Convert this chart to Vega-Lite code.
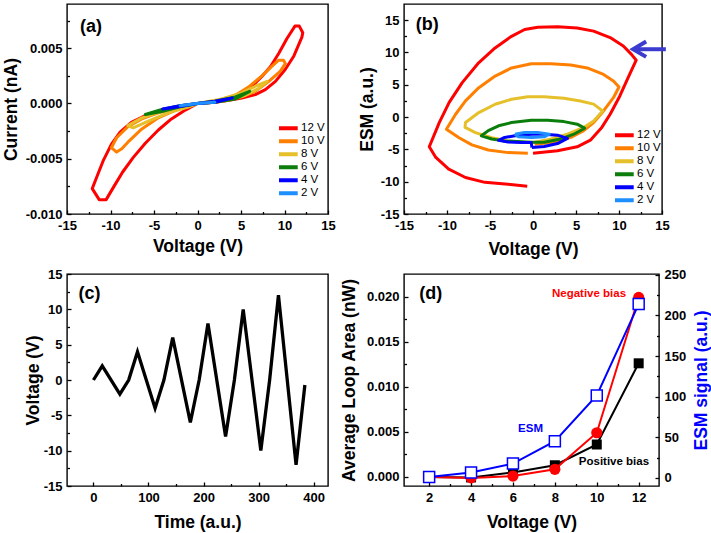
{
  "$schema": "https://vega.github.io/schema/vega-lite/v6.json",
  "padding": {"left": 1, "top": 3, "right": 2, "bottom": 2},
  "background": "white",
  "datasets": {
    "iv": [
      {"s":"12 V","k":0,"v":0,"i":0},{"s":"12 V","k":1,"v":2,"i":0.00012},{"s":"12 V","k":2,"v":3.6,"i":0.0003},{"s":"12 V","k":3,"v":5.1,"i":0.0005},{"s":"12 V","k":4,"v":6.65,"i":0.0008},{"s":"12 V","k":5,"v":7.8,"i":0.00125},{"s":"12 V","k":6,"v":8.96,"i":0.002},{"s":"12 V","k":7,"v":10.1,"i":0.0031},{"s":"12 V","k":8,"v":11.08,"i":0.0043},{"s":"12 V","k":9,"v":12,"i":0.006},{"s":"12 V","k":10,"v":12.1,"i":0.0064},{"s":"12 V","k":11,"v":11.7,"i":0.007},{"s":"12 V","k":12,"v":11.2,"i":0.007},{"s":"12 V","k":13,"v":10.3,"i":0.0059},{"s":"12 V","k":14,"v":9.35,"i":0.00455},{"s":"12 V","k":15,"v":8.4,"i":0.00335},{"s":"12 V","k":16,"v":7.4,"i":0.00245},{"s":"12 V","k":17,"v":6.3,"i":0.00158},{"s":"12 V","k":18,"v":5.1,"i":0.00098},{"s":"12 V","k":19,"v":3.6,"i":0.0005},{"s":"12 V","k":20,"v":2,"i":0.0002},{"s":"12 V","k":21,"v":0,"i":0},{"s":"12 V","k":22,"v":-1.8,"i":-0.0003},{"s":"12 V","k":23,"v":-4.1,"i":-0.0007},{"s":"12 V","k":24,"v":-6,"i":-0.0011},{"s":"12 V","k":25,"v":-7.6,"i":-0.0017},{"s":"12 V","k":26,"v":-8.9,"i":-0.0026},{"s":"12 V","k":27,"v":-9.9,"i":-0.0037},{"s":"12 V","k":28,"v":-10.85,"i":-0.0052},{"s":"12 V","k":29,"v":-11.6,"i":-0.0067},{"s":"12 V","k":30,"v":-12.1,"i":-0.0077},{"s":"12 V","k":31,"v":-11.3,"i":-0.0087},{"s":"12 V","k":32,"v":-10.5,"i":-0.0087},{"s":"12 V","k":33,"v":-9.6,"i":-0.0075},{"s":"12 V","k":34,"v":-8.6,"i":-0.0062},{"s":"12 V","k":35,"v":-7.4,"i":-0.0049},{"s":"12 V","k":36,"v":-6,"i":-0.0036},{"s":"12 V","k":37,"v":-4.5,"i":-0.0024},{"s":"12 V","k":38,"v":-3,"i":-0.0014},{"s":"12 V","k":39,"v":-1.4,"i":-0.0006},{"s":"12 V","k":40,"v":0,"i":0},
      {"s":"10 V","k":0,"v":0,"i":0},{"s":"10 V","k":1,"v":2,"i":0.00012},{"s":"10 V","k":2,"v":3.6,"i":0.0003},{"s":"10 V","k":3,"v":5.1,"i":0.0006},{"s":"10 V","k":4,"v":6.65,"i":0.0011},{"s":"10 V","k":5,"v":8.2,"i":0.002},{"s":"10 V","k":6,"v":9.5,"i":0.0029},{"s":"10 V","k":7,"v":10.1,"i":0.0036},{"s":"10 V","k":8,"v":9.9,"i":0.0039},{"s":"10 V","k":9,"v":9.3,"i":0.0039},{"s":"10 V","k":10,"v":8.6,"i":0.0034},{"s":"10 V","k":11,"v":7.4,"i":0.0025},{"s":"10 V","k":12,"v":5.9,"i":0.0015},{"s":"10 V","k":13,"v":4.35,"i":0.00075},{"s":"10 V","k":14,"v":2.4,"i":0.0003},{"s":"10 V","k":15,"v":0,"i":0},{"s":"10 V","k":16,"v":-2.2,"i":-0.0004},{"s":"10 V","k":17,"v":-4.5,"i":-0.00084},{"s":"10 V","k":18,"v":-6.4,"i":-0.0014},{"s":"10 V","k":19,"v":-8,"i":-0.0021},{"s":"10 V","k":20,"v":-9.3,"i":-0.0031},{"s":"10 V","k":21,"v":-9.9,"i":-0.004},{"s":"10 V","k":22,"v":-9.3,"i":-0.0044},{"s":"10 V","k":23,"v":-8.7,"i":-0.0041},{"s":"10 V","k":24,"v":-8,"i":-0.0035},{"s":"10 V","k":25,"v":-6.4,"i":-0.0023},{"s":"10 V","k":26,"v":-4.5,"i":-0.0013},{"s":"10 V","k":27,"v":-2.2,"i":-0.0005},{"s":"10 V","k":28,"v":0,"i":0},
      {"s":"8 V","k":0,"v":0,"i":0},{"s":"8 V","k":1,"v":3.2,"i":0.00027},{"s":"8 V","k":2,"v":5.5,"i":0.00075},{"s":"8 V","k":3,"v":7,"i":0.00135},{"s":"8 V","k":4,"v":8,"i":0.002},{"s":"8 V","k":5,"v":6.65,"i":0.00156},{"s":"8 V","k":6,"v":5.1,"i":0.00096},{"s":"8 V","k":7,"v":2.8,"i":0.0004},{"s":"8 V","k":8,"v":0,"i":0},{"s":"8 V","k":9,"v":-1.8,"i":-0.00024},{"s":"8 V","k":10,"v":-4.1,"i":-0.0007},{"s":"8 V","k":11,"v":-6.4,"i":-0.0013},{"s":"8 V","k":12,"v":-8,"i":-0.002},{"s":"8 V","k":13,"v":-7.4,"i":-0.0022},{"s":"8 V","k":14,"v":-5.65,"i":-0.0016},{"s":"8 V","k":15,"v":-3.35,"i":-0.00084},{"s":"8 V","k":16,"v":-1,"i":-0.0003},{"s":"8 V","k":17,"v":0,"i":0},
      {"s":"6 V","k":0,"v":0,"i":0},{"s":"6 V","k":1,"v":2,"i":0.0001},{"s":"6 V","k":2,"v":4.35,"i":0.0004},{"s":"6 V","k":3,"v":6,"i":0.0011},{"s":"6 V","k":4,"v":4.35,"i":0.0006},{"s":"6 V","k":5,"v":2,"i":0.0002},{"s":"6 V","k":6,"v":0,"i":0},{"s":"6 V","k":7,"v":-2,"i":-0.0002},{"s":"6 V","k":8,"v":-4.1,"i":-0.00055},{"s":"6 V","k":9,"v":-6,"i":-0.001},{"s":"6 V","k":10,"v":-4.1,"i":-0.00072},{"s":"6 V","k":11,"v":-2,"i":-0.0003},{"s":"6 V","k":12,"v":0,"i":0},
      {"s":"4 V","k":0,"v":0,"i":0},{"s":"4 V","k":1,"v":2,"i":0.0001},{"s":"4 V","k":2,"v":4,"i":0.0005},{"s":"4 V","k":3,"v":2,"i":0.0002},{"s":"4 V","k":4,"v":0,"i":0},{"s":"4 V","k":5,"v":-2,"i":-0.0002},{"s":"4 V","k":6,"v":-4,"i":-0.0005},{"s":"4 V","k":7,"v":-2,"i":-0.00028},{"s":"4 V","k":8,"v":0,"i":0},
      {"s":"2 V","k":0,"v":0,"i":0},{"s":"2 V","k":1,"v":2,"i":0.0001},{"s":"2 V","k":2,"v":0,"i":0.00002},{"s":"2 V","k":3,"v":-2,"i":-0.0002},{"s":"2 V","k":4,"v":0,"i":0}
    ],
    "esm": [
      {"s":"12 V","k":0,"v":0,"e":-5.6},{"s":"12 V","k":1,"v":2.85,"e":-5.22},{"s":"12 V","k":2,"v":5.14,"e":-4.6},{"s":"12 V","k":3,"v":6.67,"e":-3.58},{"s":"12 V","k":4,"v":8,"e":-1.6},{"s":"12 V","k":5,"v":8.97,"e":0.44},{"s":"12 V","k":6,"v":10.1,"e":3.27},{"s":"12 V","k":7,"v":11.06,"e":6.1},{"s":"12 V","k":8,"v":12,"e":8.8},{"s":"12 V","k":9,"v":11.45,"e":9.7},{"s":"12 V","k":10,"v":10.5,"e":11},{"s":"12 V","k":11,"v":8.97,"e":12.3},{"s":"12 V","k":12,"v":7.05,"e":13.3},{"s":"12 V","k":13,"v":5.14,"e":13.8},{"s":"12 V","k":14,"v":2.85,"e":13.97},{"s":"12 V","k":15,"v":0.55,"e":13.9},{"s":"12 V","k":16,"v":-0.97,"e":13.56},{"s":"12 V","k":17,"v":-2.5,"e":12.5},{"s":"12 V","k":18,"v":-4.41,"e":10.7},{"s":"12 V","k":19,"v":-6.32,"e":8.4},{"s":"12 V","k":20,"v":-8.23,"e":5.33},{"s":"12 V","k":21,"v":-9.76,"e":2.24},{"s":"12 V","k":22,"v":-10.9,"e":-0.85},{"s":"12 V","k":23,"v":-12.06,"e":-4.6},{"s":"12 V","k":24,"v":-11.3,"e":-6.25},{"s":"12 V","k":25,"v":-9.8,"e":-8.05},{"s":"12 V","k":26,"v":-7.85,"e":-9.35},{"s":"12 V","k":27,"v":-5.6,"e":-10.1},{"s":"12 V","k":28,"v":-2.9,"e":-10.4},{"s":"12 V","k":29,"v":-0.67,"e":-10.7},
      {"s":"10 V","k":0,"v":0.2,"e":-4.2},{"s":"10 V","k":1,"v":2.5,"e":-3.9},{"s":"10 V","k":2,"v":4.4,"e":-3.15},{"s":"10 V","k":3,"v":5.9,"e":-2.1},{"s":"10 V","k":4,"v":7.05,"e":-0.85},{"s":"10 V","k":5,"v":8.2,"e":0.95},{"s":"10 V","k":6,"v":9.35,"e":3},{"s":"10 V","k":7,"v":10,"e":4.65},{"s":"10 V","k":8,"v":9.35,"e":5.6},{"s":"10 V","k":9,"v":8.2,"e":6.6},{"s":"10 V","k":10,"v":6.3,"e":7.6},{"s":"10 V","k":11,"v":4.4,"e":8.05},{"s":"10 V","k":12,"v":2.1,"e":8.25},{"s":"10 V","k":13,"v":-0.2,"e":8.25},{"s":"10 V","k":14,"v":-2.5,"e":7.6},{"s":"10 V","k":15,"v":-4.4,"e":6.35},{"s":"10 V","k":16,"v":-6.3,"e":4.55},{"s":"10 V","k":17,"v":-7.85,"e":2.5},{"s":"10 V","k":18,"v":-9,"e":0.44},{"s":"10 V","k":19,"v":-10.07,"e":-1.88},{"s":"10 V","k":20,"v":-8.6,"e":-3.2},{"s":"10 V","k":21,"v":-7.1,"e":-4.3},{"s":"10 V","k":22,"v":-5.2,"e":-5.1},{"s":"10 V","k":23,"v":-2.9,"e":-5.5},{"s":"10 V","k":24,"v":-0.6,"e":-5.6},
      {"s":"8 V","k":0,"v":0,"e":-3.95},{"s":"8 V","k":1,"v":2.1,"e":-3.4},{"s":"8 V","k":2,"v":4,"e":-2.65},{"s":"8 V","k":3,"v":5.9,"e":-1.6},{"s":"8 V","k":4,"v":7.05,"e":-0.6},{"s":"8 V","k":5,"v":8.1,"e":0.95},{"s":"8 V","k":6,"v":7.05,"e":2},{"s":"8 V","k":7,"v":5.5,"e":2.5},{"s":"8 V","k":8,"v":3.6,"e":2.9},{"s":"8 V","k":9,"v":1.3,"e":3.15},{"s":"8 V","k":10,"v":-0.6,"e":3.15},{"s":"8 V","k":11,"v":-2.5,"e":2.75},{"s":"8 V","k":12,"v":-4.4,"e":1.98},{"s":"8 V","k":13,"v":-6.3,"e":0.7},{"s":"8 V","k":14,"v":-7.85,"e":-0.85},{"s":"8 V","k":15,"v":-7.9,"e":-1.6},{"s":"8 V","k":16,"v":-6.7,"e":-2.4},{"s":"8 V","k":17,"v":-4.8,"e":-3.2},{"s":"8 V","k":18,"v":-2.9,"e":-3.7},{"s":"8 V","k":19,"v":-1,"e":-3.95},{"s":"8 V","k":20,"v":-0.2,"e":-3.95},
      {"s":"6 V","k":0,"v":-0.2,"e":-3.9},{"s":"6 V","k":1,"v":1.3,"e":-3.9},{"s":"6 V","k":2,"v":3.2,"e":-3.4},{"s":"6 V","k":3,"v":4.75,"e":-2.65},{"s":"6 V","k":4,"v":6,"e":-1.72},{"s":"6 V","k":5,"v":5.14,"e":-1.1},{"s":"6 V","k":6,"v":3.6,"e":-0.7},{"s":"6 V","k":7,"v":1.7,"e":-0.5},{"s":"6 V","k":8,"v":-0.2,"e":-0.5},{"s":"6 V","k":9,"v":-2.5,"e":-0.85},{"s":"6 V","k":10,"v":-4,"e":-1.35},{"s":"6 V","k":11,"v":-5.2,"e":-2.1},{"s":"6 V","k":12,"v":-6,"e":-2.9},{"s":"6 V","k":13,"v":-4.8,"e":-3.4},{"s":"6 V","k":14,"v":-3.3,"e":-3.7},{"s":"6 V","k":15,"v":-1.36,"e":-3.8},{"s":"6 V","k":16,"v":-0.2,"e":-3.9},
      {"s":"4 V","k":0,"v":-0.13,"e":-4.7},{"s":"4 V","k":1,"v":1.3,"e":-4.55},{"s":"4 V","k":2,"v":2.85,"e":-4.1},{"s":"4 V","k":3,"v":4,"e":-3.3},{"s":"4 V","k":4,"v":2.85,"e":-2.8},{"s":"4 V","k":5,"v":1.3,"e":-2.65},{"s":"4 V","k":6,"v":-0.2,"e":-2.65},{"s":"4 V","k":7,"v":-2.1,"e":-2.9},{"s":"4 V","k":8,"v":-3.3,"e":-3.15},{"s":"4 V","k":9,"v":-4,"e":-3.6},{"s":"4 V","k":10,"v":-2.9,"e":-3.85},{"s":"4 V","k":11,"v":-1.36,"e":-3.95},{"s":"4 V","k":12,"v":-0.2,"e":-3.95},{"s":"4 V","k":13,"v":-0.13,"e":-4.7},
      {"s":"2 V","k":0,"v":-2.1,"e":-2.65},{"s":"2 V","k":1,"v":-1,"e":-2.4},{"s":"2 V","k":2,"v":0.55,"e":-2.4},{"s":"2 V","k":3,"v":1.9,"e":-2.65},{"s":"2 V","k":4,"v":1.3,"e":-3.05},{"s":"2 V","k":5,"v":-0.2,"e":-3.15},{"s":"2 V","k":6,"v":-1.7,"e":-3.05},{"s":"2 V","k":7,"v":-2.1,"e":-2.65}
    ],
    "wave": [
      {"t":0,"v":0},{"t":16,"v":2},{"t":48,"v":-2},{"t":64,"v":0},{"t":80,"v":4},{"t":112,"v":-4},{"t":128,"v":0},{"t":144,"v":6},{"t":176,"v":-6},{"t":192,"v":0},{"t":208,"v":8},{"t":240,"v":-8},{"t":256,"v":0},{"t":272,"v":10},{"t":304,"v":-10},{"t":320,"v":0},{"t":336,"v":12},{"t":368,"v":-12},{"t":384,"v":-0.7}
    ],
    "loop": [
      {"bias":2,"pos":0,"neg":0,"esm":1.2},
      {"bias":4,"pos":-0.00005,"neg":-0.0001,"esm":6.5},
      {"bias":6,"pos":0.0005,"neg":0.0001,"esm":17.6},
      {"bias":8,"pos":0.0013,"neg":0.00085,"esm":45.2},
      {"bias":10,"pos":0.0036,"neg":0.0049,"esm":101.4},
      {"bias":12,"pos":0.0126,"neg":0.0199,"esm":214}
    ]
  },
  "columns": 2,
  "bounds": "flush",
  "align": "all",
  "spacing": {"row": 58, "column": 76},
  "resolve": {"scale": {"x": "independent", "y": "independent", "color": "independent"}, "legend": {"color": "independent"}},
  "concat": [
    {
      "width": 261, "height": 210,
      "resolve": {"axis": {"x": "independent", "y": "independent"}},
      "layer": [
        {
          "data": {"name": "iv"},
          "mark": {"type": "line", "strokeWidth": 3, "strokeJoin": "round"},
          "encoding": {
            "x": {"field": "v", "type": "quantitative", "title": "Voltage (V)", "scale": {"domain": [-15, 15], "nice": false, "zero": false},
                  "axis": {"orient": "bottom", "values": [-15, -10, -5, 0, 5, 10, 15], "labelOverlap": false, "titleY": 32, "labelExpr": "replace(datum.label, '−', '-')"}},
            "y": {"field": "i", "type": "quantitative", "title": "Current (nA)", "scale": {"domain": [-0.010, 0.009], "nice": false, "zero": false},
                  "axis": {"orient": "left", "values": [-0.01, -0.005, 0, 0.005], "labelOverlap": false, "format": ".3f", "titleX": -56, "labelExpr": "replace(datum.label, '−', '-')"}},
            "color": {"field": "s", "type": "nominal", "sort": null,
                      "scale": {"domain": ["12 V", "10 V", "8 V", "6 V", "4 V", "2 V"], "range": ["#ff0000", "#ff8000", "#e6c02a", "#0a7d0a", "#0000ff", "#1e8fff"]},
                      "legend": {"orient": "none", "legendX": 212, "legendY": 118, "title": null, "symbolType": "M-2.52,0L2.52,0", "symbolSize": 86.5, "symbolStrokeWidth": 4, "labelFontSize": 11.5, "labelFont": "Liberation Sans", "labelColor": "#000", "labelOffset": 8, "rowPadding": 0, "clipHeight": 12.7, "padding": 0}},
            "order": {"field": "k", "type": "quantitative"}
          }
        },
        {
          "data": {"values": [{"x": -12.25, "y": 0.00695, "t": "(a)"}]},
          "mark": {"type": "text", "fontSize": 18, "fontWeight": "bold", "font": "Liberation Sans", "color": "#000"},
          "encoding": {
            "x": {"field": "x", "type": "quantitative", "scale": {"domain": [-15, 15], "nice": false, "zero": false},
                  "axis": {"orient": "bottom", "title": null, "labels": false, "tickSize": -2.5, "values": [-12.5, -7.5, -2.5, 2.5, 7.5, 12.5]}},
            "y": {"field": "y", "type": "quantitative", "scale": {"domain": [-0.010, 0.009], "nice": false, "zero": false},
                  "axis": {"orient": "left", "title": null, "labels": false, "tickSize": -2.5, "values": [-0.0075, -0.0025, 0.0025, 0.0075]}},
            "text": {"field": "t"}
          }
        }
      ]
    },
    {
      "width": 258, "height": 210,
      "resolve": {"axis": {"x": "independent", "y": "independent"}},
      "layer": [
        {
          "data": {"name": "esm"},
          "mark": {"type": "line", "strokeWidth": 3, "strokeJoin": "round"},
          "encoding": {
            "x": {"field": "v", "type": "quantitative", "title": "Voltage (V)", "scale": {"domain": [-15, 15], "nice": false, "zero": false},
                  "axis": {"orient": "bottom", "values": [-15, -10, -5, 0, 5, 10, 15], "labelOverlap": false, "titleY": 35, "labelExpr": "replace(datum.label, '−', '-')"}},
            "y": {"field": "e", "type": "quantitative", "title": "ESM (a.u.)", "scale": {"domain": [-15, 17.5], "nice": false, "zero": false},
                  "axis": {"orient": "left", "values": [-15, -10, -5, 0, 5, 10, 15], "labelOverlap": false, "titleX": -37, "labelExpr": "replace(datum.label, '−', '-')"}},
            "color": {"field": "s", "type": "nominal", "sort": null,
                      "scale": {"domain": ["12 V", "10 V", "8 V", "6 V", "4 V", "2 V"], "range": ["#ff0000", "#ff8000", "#e6c02a", "#0a7d0a", "#0000ff", "#1e8fff"]},
                      "legend": {"orient": "none", "legendX": 211, "legendY": 125, "title": null, "symbolType": "M-2.52,0L2.52,0", "symbolSize": 86.5, "symbolStrokeWidth": 4, "labelFontSize": 11.5, "labelFont": "Liberation Sans", "labelColor": "#000", "labelOffset": 8, "rowPadding": 0, "clipHeight": 12.5, "padding": 0}},
            "order": {"field": "k", "type": "quantitative"}
          }
        },
        {
          "data": {"values": [{"x1": 12.0, "x2": 15.45, "y": 10.5}]},
          "mark": {"type": "rule", "color": "#3b3bd0", "strokeWidth": 4},
          "encoding": {
            "x": {"field": "x1", "type": "quantitative", "scale": {"domain": [-15, 15], "nice": false, "zero": false}, "axis": null},
            "x2": {"field": "x2"},
            "y": {"field": "y", "type": "quantitative", "scale": {"domain": [-15, 17.5], "nice": false, "zero": false}, "axis": null}
          }
        },
        {
          "data": {"values": [{"x": 12.4, "y": 10.5}]},
          "mark": {"type": "point", "shape": "M1,-1.18L-1,0L1,1.18", "size": 169, "filled": false, "stroke": "#3b3bd0", "strokeWidth": 4, "opacity": 1},
          "encoding": {
            "x": {"field": "x", "type": "quantitative", "scale": {"domain": [-15, 15], "nice": false, "zero": false}, "axis": null},
            "y": {"field": "y", "type": "quantitative", "scale": {"domain": [-15, 17.5], "nice": false, "zero": false}, "axis": null}
          }
        },
        {
          "data": {"values": [{"x": -12.3, "y": 14.3, "t": "(b)"}]},
          "mark": {"type": "text", "fontSize": 18, "fontWeight": "bold", "font": "Liberation Sans", "color": "#000"},
          "encoding": {
            "x": {"field": "x", "type": "quantitative", "scale": {"domain": [-15, 15], "nice": false, "zero": false},
                  "axis": {"orient": "bottom", "title": null, "labels": false, "tickSize": -2.5, "values": [-12.5, -7.5, -2.5, 2.5, 7.5, 12.5]}},
            "y": {"field": "y", "type": "quantitative", "scale": {"domain": [-15, 17.5], "nice": false, "zero": false},
                  "axis": {"orient": "left", "title": null, "labels": false, "tickSize": -2.5, "values": [-12.5, -7.5, -2.5, 2.5, 7.5, 12.5]}},
            "text": {"field": "t"}
          }
        }
      ]
    },
    {
      "width": 261, "height": 212,
      "resolve": {"axis": {"x": "independent", "y": "independent"}},
      "layer": [
        {
          "data": {"name": "wave"},
          "mark": {"type": "line", "strokeWidth": 3.3, "color": "#000"},
          "encoding": {
            "x": {"field": "t", "type": "quantitative", "title": "Time (a.u.)", "scale": {"domain": [-48, 426], "nice": false, "zero": false},
                  "axis": {"orient": "bottom", "values": [0, 100, 200, 300, 400], "labelOverlap": false, "titleY": 36.7}},
            "y": {"field": "v", "type": "quantitative", "title": "Voltage (V)", "scale": {"domain": [-15, 15], "nice": false, "zero": false},
                  "axis": {"orient": "left", "values": [-15, -10, -5, 0, 5, 10, 15], "labelOverlap": false, "titleX": -33.5, "labelExpr": "replace(datum.label, '−', '-')"}}
          }
        },
        {
          "data": {"values": [{"x": -7, "y": 12.1, "t": "(c)"}]},
          "mark": {"type": "text", "fontSize": 18, "fontWeight": "bold", "font": "Liberation Sans", "color": "#000"},
          "encoding": {
            "x": {"field": "x", "type": "quantitative", "scale": {"domain": [-48, 426], "nice": false, "zero": false},
                  "axis": {"orient": "bottom", "title": null, "labels": false, "tickSize": -2.5, "values": [50, 150, 250, 350]}},
            "y": {"field": "y", "type": "quantitative", "scale": {"domain": [-15, 15], "nice": false, "zero": false},
                  "axis": {"orient": "left", "title": null, "labels": false, "tickSize": -2.5, "values": [-12.5, -7.5, -2.5, 2.5, 7.5, 12.5]}},
            "text": {"field": "t"}
          }
        }
      ]
    },
    {
      "width": 255, "height": 212,
      "resolve": {"scale": {"y": "independent"}},
      "layer": [
        {
          "resolve": {"axis": {"x": "independent", "y": "independent"}},
          "layer": [
            {
              "data": {"name": "loop"},
              "mark": {"type": "line", "color": "#000", "strokeWidth": 2},
              "encoding": {
                "x": {"field": "bias", "type": "quantitative", "title": "Voltage (V)", "scale": {"domain": [0.8, 12.97], "nice": false, "zero": false},
                      "axis": {"orient": "bottom", "values": [2, 4, 6, 8, 10, 12], "labelOverlap": false, "titleY": 36.7}},
                "y": {"field": "pos", "type": "quantitative", "title": "Average Loop Area (nW)", "scale": {"domain": [-0.001, 0.0225], "nice": false, "zero": false},
                      "axis": {"orient": "left", "values": [0, 0.005, 0.01, 0.015, 0.02], "labelOverlap": false, "format": ".3f", "titleX": -55}}
              }
            },
            {
              "data": {"name": "loop"},
              "mark": {"type": "point", "shape": "square", "filled": true, "color": "#000", "size": 100, "opacity": 1},
              "encoding": {
                "x": {"field": "bias", "type": "quantitative", "scale": {"domain": [0.8, 12.97], "nice": false, "zero": false}, "axis": null},
                "y": {"field": "pos", "type": "quantitative", "scale": {"domain": [-0.001, 0.0225], "nice": false, "zero": false}, "axis": null}
              }
            },
            {
              "data": {"name": "loop"},
              "mark": {"type": "line", "color": "#ff0000", "strokeWidth": 2},
              "encoding": {
                "x": {"field": "bias", "type": "quantitative", "scale": {"domain": [0.8, 12.97], "nice": false, "zero": false}, "axis": null},
                "y": {"field": "neg", "type": "quantitative", "scale": {"domain": [-0.001, 0.0225], "nice": false, "zero": false}, "axis": null}
              }
            },
            {
              "data": {"name": "loop"},
              "mark": {"type": "point", "shape": "circle", "filled": true, "color": "#ff0000", "size": 125, "opacity": 1},
              "encoding": {
                "x": {"field": "bias", "type": "quantitative", "scale": {"domain": [0.8, 12.97], "nice": false, "zero": false}, "axis": null},
                "y": {"field": "neg", "type": "quantitative", "scale": {"domain": [-0.001, 0.0225], "nice": false, "zero": false}, "axis": null}
              }
            },
            {
              "data": {"values": [
                {"x": 2.08, "y": 0.0203, "t": "(d)", "c": "k", "fs": "big"},
                {"x": 9.63, "y": 0.0203, "t": "Negative bias", "c": "r", "fs": "small"},
                {"x": 6.84, "y": 0.0053, "t": "ESM", "c": "b", "fs": "small"},
                {"x": 10.82, "y": 0.00166, "t": "Positive bias", "c": "k", "fs": "small"}
              ]},
              "mark": {"type": "text", "fontWeight": "bold", "font": "Liberation Sans"},
              "encoding": {
                "x": {"field": "x", "type": "quantitative", "scale": {"domain": [0.8, 12.97], "nice": false, "zero": false},
                      "axis": {"orient": "bottom", "title": null, "labels": false, "tickSize": -2.5, "values": [3, 5, 7, 9, 11]}},
                "y": {"field": "y", "type": "quantitative", "scale": {"domain": [-0.001, 0.0225], "nice": false, "zero": false},
                      "axis": {"orient": "left", "title": null, "labels": false, "tickSize": -2.5, "values": [0.0025, 0.0075, 0.0125, 0.0175]}},
                "text": {"field": "t"},
                "color": {"field": "c", "type": "nominal", "scale": {"domain": ["k", "r", "b"], "range": ["#000000", "#ff0000", "#0000ff"]}, "legend": null},
                "size": {"field": "fs", "type": "nominal", "scale": {"domain": ["big", "small"], "range": [18, 11.5]}, "legend": null}
              }
            }
          ]
        },
        {
          "resolve": {"axis": {"y": "independent"}},
          "layer": [
            {
              "data": {"name": "loop"},
              "mark": {"type": "line", "color": "#0000ff", "strokeWidth": 2},
              "encoding": {
                "x": {"field": "bias", "type": "quantitative", "scale": {"domain": [0.8, 12.97], "nice": false, "zero": false}, "axis": null},
                "y": {"field": "esm", "type": "quantitative", "title": "ESM signal (a.u.)", "scale": {"domain": [-10, 251], "nice": false, "zero": false},
                      "axis": {"orient": "right", "values": [0, 50, 100, 150, 200, 250], "labelOverlap": false, "titleX": 42.3, "titleAngle": 270, "titleColor": "#0000ff"}}
              }
            },
            {
              "data": {"name": "loop"},
              "mark": {"type": "point", "shape": "square", "filled": true, "fill": "#ffffff", "stroke": "#0000ff", "strokeWidth": 1.5, "size": 121, "opacity": 1},
              "encoding": {
                "x": {"field": "bias", "type": "quantitative", "scale": {"domain": [0.8, 12.97], "nice": false, "zero": false}, "axis": null},
                "y": {"field": "esm", "type": "quantitative", "scale": {"domain": [-10, 251], "nice": false, "zero": false},
                      "axis": {"orient": "right", "title": null, "labels": false, "tickSize": -2.5, "values": [25, 75, 125, 175, 225]}}
              }
            }
          ]
        }
      ]
    }
  ],
  "config": {
    "font": "Liberation Sans",
    "view": {"stroke": "#000000", "strokeWidth": 1.4},
    "axis": {
      "grid": false, "domain": false, "ticks": true, "tickColor": "#000", "tickWidth": 1.3, "tickSize": -4,
      "labelFont": "Liberation Sans", "labelFontSize": 13, "labelFontWeight": "bold", "labelColor": "#000", "labelPadding": 9,
      "labelFlush": false, "labelOverlap": false,
      "titleFont": "Liberation Sans", "titleFontSize": 17.5, "titleFontWeight": "bold", "titleColor": "#000",
      "titleBaseline": "middle", "titleAlign": "center"
    },
    "legend": {"labelFont": "Liberation Sans"}
  }
}
